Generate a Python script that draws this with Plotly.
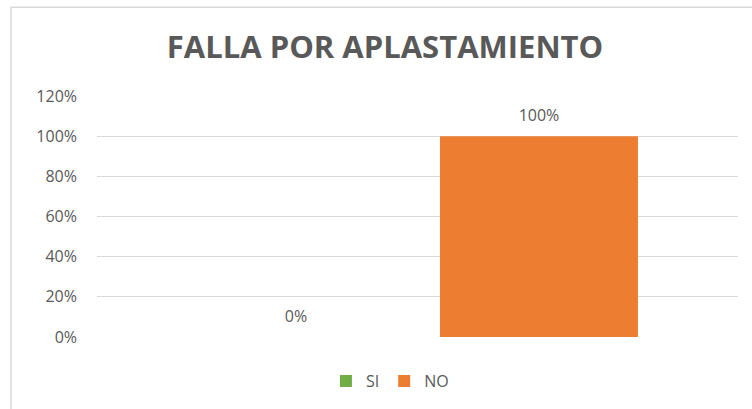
import plotly.graph_objects as go

category = [""]
series_names = ["SI", "NO"]
series_values = [[0.0], [1.0]]
series_colors = ["#70AD47", "#ED7D31"]
y_ticks = [0, 0.2, 0.4, 0.6, 0.8, 1.0, 1.2]
y_ticklabels = ["0%", "20%", "40%", "60%", "80%", "100%", "120%"]

FONT = "Open Sans"
GRAY = "#595959"

fig = go.Figure()
for name, vals, col in zip(series_names, series_values, series_colors):
    fig.add_trace(go.Bar(
        x=category, y=vals, name=name, marker=dict(color=col, line=dict(width=0)),
        text=[f"<span style='font-size:16px'>{v*100:.0f}%</span><br> " for v in vals],
        textposition="outside",
        textfont=dict(size=8, color=GRAY, family=FONT),
        cliponaxis=False,
    ))

fig.update_layout(
    width=752, height=409,
    margin=dict(l=97, r=14, t=96, b=71),
    paper_bgcolor="white", plot_bgcolor="white",
    barmode="group", bargap=0.242, bargroupgap=0.185,
    title=dict(text="<b>FALLA POR APLASTAMIENTO</b>", x=0.512, xanchor="center",
               y=1 - 47/409, yanchor="middle",
               font=dict(size=31, color=GRAY, family=FONT)),
    xaxis=dict(showticklabels=False, showgrid=False, zeroline=False,
               showline=False, ticks=""),
    yaxis=dict(range=[0, 1.2], tickvals=y_ticks, ticktext=y_ticklabels,
               showgrid=True, gridcolor="#D9D9D9", gridwidth=1, zeroline=False,
               showline=False, ticks="", ticklabelstandoff=19,
               tickfont=dict(size=16, color=GRAY, family=FONT)),
    legend=dict(orientation="h", x=0.457, xanchor="center", y=-0.178, yanchor="middle",
                font=dict(size=16, color=GRAY, family=FONT),
                itemwidth=30, traceorder="normal"),
    showlegend=True,
)

fig.add_shape(type="rect", xref="paper", yref="paper",
              x0=(11-97)/641, x1=(770-97)/641, y0=(338-430)/242, y1=(338-7)/242,
              line=dict(color="#D9D9D9", width=1.5), fillcolor="rgba(0,0,0,0)", layer="below")

fig.write_html("out.html")
